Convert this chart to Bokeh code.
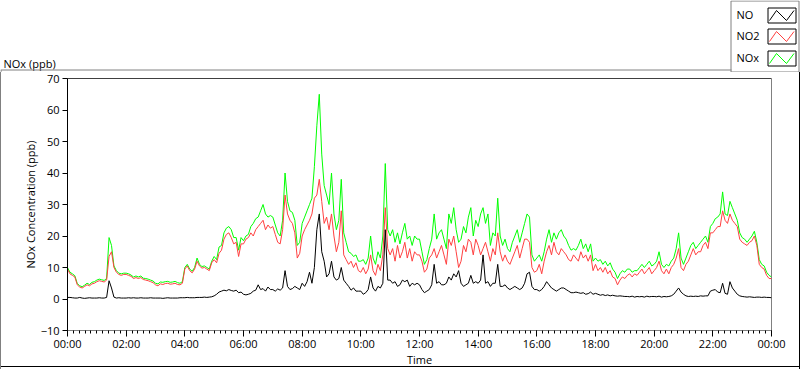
import numpy as np
from bokeh.plotting import figure
from bokeh.layouts import column
from bokeh.models import Range1d, FixedTicker, Span
from bokeh.embed import file_html
from bokeh.resources import INLINE
from bokeh.core.properties import value

FONT = "Open Sans"

# 5-minute samples, 00:00 .. 24:00 (one row per hour)
NO2 = [
    9.5, 8.0, 7.5, 7.0, 4.5, 3.8, 3.5, 4.0, 4.5, 4.2, 4.8, 5.0,
    5.5, 5.8, 5.6, 5.4, 6.0, 13.5, 15.0, 10.0, 8.5, 7.8, 7.5, 7.8,
    7.8, 7.5, 7.2, 6.5, 6.8, 6.5, 6.8, 6.2, 6.0, 5.8, 5.5, 5.2,
    4.5, 4.2, 4.8, 4.6, 4.9, 5.0, 4.7, 4.8, 5.0, 4.6, 4.5, 5.0,
    9.5, 10.5, 9.0, 8.3, 9.5, 12.0, 10.5, 9.8, 10.0, 9.5, 9.0, 11.5,
    12.5, 11.5, 14.5, 15.5, 19.0, 20.5, 21.0, 19.5, 17.5, 18.0, 13.5, 17.5,
    17.5, 19.0, 19.5, 21.0, 20.0, 22.0, 23.0, 24.0, 25.0, 22.0, 23.5, 22.5,
    23.0, 20.5, 18.0, 17.5, 22.0, 33.0, 27.0, 25.0, 24.0, 21.0, 13.0, 14.5,
    20.0, 22.0, 23.5, 25.0, 27.0, 32.0, 33.0, 38.0, 31.0, 24.0, 26.0, 22.0,
    27.0, 20.0, 15.0, 18.0, 28.0, 14.0, 12.5, 11.0, 12.0, 10.0, 11.5, 9.0,
    8.5, 10.0, 8.0, 9.5, 14.0, 9.0, 7.5, 11.0, 9.0, 14.0, 29.0, 16.0,
    14.0, 16.0, 12.0, 17.0, 13.0, 15.0, 18.0, 13.0, 16.0, 12.0, 15.0, 14.0,
    14.0, 12.0, 8.5, 9.5, 13.0, 14.0, 16.0, 13.0, 15.0, 17.0, 14.0, 11.0,
    19.0, 17.0, 20.0, 15.0, 10.0, 12.0, 17.0, 15.0, 19.0, 18.0, 14.0, 19.0,
    17.0, 14.0, 16.0, 18.0, 15.0, 12.0, 16.0, 14.0, 21.0, 15.0, 12.0, 14.0,
    12.0, 11.0, 13.0, 15.0, 17.0, 13.0, 16.0, 19.0, 19.0, 18.0, 10.0, 8.5,
    9.0, 11.0, 8.0, 12.0, 15.0, 17.0, 14.0, 18.0, 15.0, 14.0, 16.0, 15.0,
    14.0, 12.5, 12.0, 14.0, 13.0, 12.0, 15.0, 13.0, 14.0, 12.0, 14.0, 9.0,
    11.0, 9.0, 10.0, 8.5, 10.0, 8.0, 9.0, 7.0, 6.5, 4.5, 6.0, 7.0,
    6.5, 7.5, 8.0, 7.0, 8.0, 7.5, 8.5, 9.5, 8.0, 9.0, 10.0, 8.0,
    9.0, 10.0, 12.0, 9.0, 8.0, 9.5, 8.0, 10.0, 11.0, 13.0, 16.0, 10.0,
    9.0, 11.0, 12.0, 14.0, 16.0, 14.0, 15.0, 15.0, 17.0, 18.0, 16.0, 21.0,
    21.0, 22.0, 23.0, 23.0, 28.0, 25.0, 24.0, 27.0, 25.0, 24.0, 23.0, 19.0,
    18.0, 17.5, 17.0, 18.0, 18.5, 20.0, 17.0, 11.0, 10.0, 9.5, 7.5, 6.5,
    6.5,
]

NOX = [
    10.0, 8.5, 8.0, 7.4, 4.9, 4.2, 3.9, 4.4, 5.0, 4.6, 5.3, 5.5,
    6.0, 6.3, 6.1, 5.9, 6.5, 19.5, 17.0, 10.5, 9.0, 8.2, 8.0, 8.2,
    8.2, 8.0, 7.6, 7.0, 7.3, 7.0, 7.3, 6.6, 6.5, 6.3, 6.0, 5.7,
    5.0, 4.8, 5.4, 5.3, 5.5, 5.6, 5.3, 5.4, 5.6, 5.2, 5.0, 5.5,
    10.0, 11.0, 9.5, 8.8, 10.0, 13.0, 11.0, 10.3, 10.5, 10.0, 9.5, 12.0,
    13.5, 12.5, 16.5, 17.0, 21.0, 22.5, 23.0, 22.0, 19.5, 19.5, 15.5, 19.5,
    18.5, 20.0, 20.5, 23.0, 24.0, 25.5, 26.0, 28.0, 30.0, 27.0, 26.0, 26.5,
    26.0, 23.5, 21.0, 20.0, 25.0, 40.0, 31.0, 28.0, 27.5, 25.0, 17.0, 18.0,
    24.0, 26.0, 28.0, 30.0, 32.0, 42.0, 55.0, 65.0, 46.0, 36.0, 33.0, 30.0,
    40.0, 27.0, 22.0, 25.0, 38.0, 21.0, 18.0, 15.0, 14.5, 13.5, 14.0, 12.0,
    12.0, 12.5, 11.0, 13.0, 20.0, 13.0, 11.0, 15.0, 13.0, 20.0, 43.0, 22.0,
    20.0, 22.0, 18.0, 21.0, 17.5, 21.0, 24.0, 19.0, 20.0, 17.0, 20.0, 19.0,
    19.0, 15.0, 11.0, 12.5, 16.0, 19.0, 27.0, 19.0, 21.0, 22.0, 19.0, 16.0,
    27.0, 24.0, 29.0, 22.0, 18.0, 19.0, 23.0, 21.0, 26.0, 29.0, 20.0, 25.0,
    23.0, 27.0, 29.0, 24.0, 27.0, 17.0, 21.0, 20.0, 32.0, 20.0, 17.0, 19.0,
    16.0, 15.0, 18.0, 20.0, 22.0, 18.0, 21.0, 24.0, 27.0, 26.0, 14.0, 12.0,
    13.0, 14.0, 12.0, 15.0, 19.0, 22.0, 18.0, 21.0, 19.0, 21.0, 22.0, 20.0,
    19.0, 17.0, 15.5, 16.0, 15.5, 17.0, 19.0, 16.0, 17.5, 15.0, 17.5, 12.0,
    13.0, 12.0, 12.5, 11.0, 12.0, 10.5, 11.5, 9.5, 8.5, 6.5, 8.0, 9.0,
    8.5, 9.5, 9.5, 8.5, 9.0, 9.0, 10.0, 11.0, 10.0, 11.0, 12.0, 10.5,
    11.0, 12.0, 15.0, 11.0, 10.0, 11.0, 10.5, 12.0, 13.0, 16.0, 21.0, 13.0,
    11.0, 13.0, 15.0, 17.0, 18.0, 16.0, 17.0, 18.0, 19.0, 20.0, 18.0, 23.0,
    24.0, 25.5, 26.0, 27.0, 34.0, 27.0, 26.5, 31.0, 29.0, 27.0, 25.0, 21.0,
    19.5, 19.0, 18.0, 19.0, 20.0, 21.5, 18.0, 12.5, 11.0, 10.5, 8.5, 7.5,
    7.0,
]

NO = [
    0.5, 0.5, 0.4, 0.3, 0.3, 0.5, 0.3, 0.2, 0.3, 0.4, 0.3, 0.3,
    0.3, 0.4, 0.3, 0.3, 0.5, 5.8, 3.5, 0.6, 0.3, 0.4, 0.3, 0.3,
    0.3, 0.4, 0.3, 0.4, 0.3, 0.3, 0.4, 0.3, 0.3, 0.3, 0.4, 0.3,
    0.3, 0.3, 0.3, 0.2, 0.3, 0.4, 0.3, 0.3, 0.3, 0.3, 0.4, 0.4,
    0.4, 0.5, 0.4, 0.4, 0.4, 0.5, 0.5, 0.5, 0.6, 0.5, 0.6, 0.7,
    1.0, 1.5, 2.2, 2.5, 2.8, 2.6, 3.0, 2.7, 2.5, 2.8, 2.0, 2.2,
    1.5, 1.3, 1.5, 1.8, 2.5, 2.8, 4.5, 3.0, 3.3, 2.5, 3.8, 3.0,
    3.0, 2.5, 3.2, 2.8, 3.5, 9.0, 4.0, 3.0, 3.3, 4.0, 3.5, 3.0,
    5.0, 4.0, 5.5, 8.5, 5.0, 10.0, 22.0, 27.0, 15.0, 12.0, 7.0, 8.0,
    12.0, 7.0, 6.0, 6.5, 10.0, 6.0, 5.0, 4.0, 2.8, 3.5, 2.5, 2.5,
    2.5, 1.5, 2.0, 3.0, 7.0, 3.5, 2.5, 4.0, 3.5, 5.0, 22.0, 6.0,
    6.0, 5.0, 5.5, 4.0, 4.5, 6.0, 5.5, 6.0, 4.0, 5.0, 4.5, 5.0,
    4.5, 3.0, 2.0, 2.5, 3.0, 4.5, 11.0, 5.0, 5.5, 4.5, 4.5, 5.0,
    7.0, 6.0, 8.0, 7.0, 9.0, 5.0, 4.0, 4.5, 5.0, 7.5, 5.0, 5.5,
    5.0, 6.0, 14.0, 5.0, 5.5, 4.0, 5.0, 5.0, 11.0, 4.0, 4.0, 4.5,
    3.5, 3.0, 3.5, 4.0, 3.5, 3.0, 3.5, 5.0, 8.0, 8.5, 4.0, 3.0,
    3.0, 2.5, 3.0, 4.0, 5.5, 4.5, 3.5, 3.0, 2.5, 3.0, 3.5, 3.5,
    3.0, 2.5, 2.0, 2.0, 2.2, 2.0, 1.8, 2.0, 1.5, 1.7, 2.2, 1.5,
    1.8, 1.5, 1.2, 1.4, 1.1, 1.3, 1.0, 1.2, 1.0, 0.9, 1.0, 0.9,
    0.8, 0.8, 0.7, 0.9, 0.6, 0.8, 0.7, 0.8, 0.6, 0.9, 0.7, 0.8,
    0.8, 0.7, 0.9, 0.6, 0.8, 0.7, 0.8, 1.0, 1.5, 2.5, 3.5, 2.2,
    1.5, 1.0, 0.8, 0.9, 0.8, 0.9, 0.8, 1.0, 0.9, 1.0, 1.0, 2.5,
    2.8, 3.0, 2.2, 2.0, 5.0, 1.8, 1.5, 5.5, 3.5, 2.5, 1.5, 1.0,
    0.8, 0.7, 0.6, 0.7, 0.6, 0.5, 0.6, 0.6, 0.5, 0.6, 0.5, 0.5,
    0.4,
]

TIME_H = np.arange(len(NO)) / 12.0  # hours since midnight, 5-min steps

X_TICKS = [0, 2, 4, 6, 8, 10, 12, 14, 16, 18, 20, 22, 24]
X_LABELS = ["00:00", "02:00", "04:00", "06:00", "08:00", "10:00", "12:00",
            "14:00", "16:00", "18:00", "20:00", "22:00", "00:00"]
Y_TICKS = [-10, 0, 10, 20, 30, 40, 50, 60, 70]

SERIES = ["NO", "NO2", "NOx"]
COLORS = {"NO": "#000000", "NO2": "#ff4040", "NOx": "#00ff00"}

W = 800
TOP_H = 72
MAIN_H = 297

# ---------------- header strip (title + legend) ----------------
top = figure(width=W, height=TOP_H, x_range=Range1d(0, W), y_range=Range1d(TOP_H, 0),
             x_axis_type=None, y_axis_type=None, toolbar_location=None,
             output_backend="svg", min_border=0, min_border_left=0, min_border_right=0,
             min_border_top=0, min_border_bottom=0, outline_line_color=None, title=None)
top.frame_align = False
top.background_fill_color = "white"
top.border_fill_color = "white"

top.text(x=[3], y=[63], text=["NOx (ppb)"], text_font=value(FONT), text_font_size="11px",
         text_baseline="alphabetic", text_color="black")
# outer frame top edge + start of its left edge
top.line([0, 731], [69.5, 69.5], line_color="#808080", line_width=1)
top.line([0.5, 0.5], [69.5, 72], line_color="#808080", line_width=1)
# legend box
top.line([730.5, 730.5, 798.5, 798.5, 730.5], [72, 0.5, 0.5, 71.5, 71.5],
         line_color="#808080", line_width=1)
row_y = [15, 36, 58]
for name, yc in zip(SERIES, row_y):
    top.text(x=[736], y=[yc - 1], text=[name], text_font=value(FONT), text_font_size="11px",
             text_baseline="middle", text_color="black")
    top.quad(left=[767.5], right=[795.5], top=[yc - 7.5], bottom=[yc + 7.5],
             fill_color="white", line_color="#000000", line_width=1)
    top.line([769, 776, 786, 793.5], [yc + 5, yc - 5, yc + 5, yc - 5],
             line_color=COLORS[name], line_width=1)

# ---------------- main chart ----------------
p = figure(width=W, height=MAIN_H, x_range=Range1d(0, 24), y_range=Range1d(-10, 70),
           toolbar_location=None, output_backend="svg", title=None,
           min_border_left=67, min_border_right=29, min_border_top=6, min_border_bottom=39)
p.frame_align = False
p.background_fill_color = "white"
p.border_fill_color = None
p.grid.visible = False
p.outline_line_color = "#808080"
p.styles = {"box-shadow": "inset 1px 0 0 0 #808080, inset -1px 0 0 0 #000000, inset 0 -2px 0 0 #ffffff, inset 0 -3px 0 0 #000000",
            "background-color": "white"}

p.line(TIME_H, NOX, line_color=COLORS["NOx"], line_width=1)
p.line(TIME_H, NO2, line_color=COLORS["NO2"], line_width=1)
p.line(TIME_H, NO, line_color=COLORS["NO"], line_width=1)

p.add_layout(Span(location=70, dimension="width", line_color="black", line_width=1))

minor = [i * 0.2 for i in range(0, 121)]
xa = p.xaxis[0]
xa.ticker = FixedTicker(ticks=X_TICKS, minor_ticks=minor)
xa.major_label_overrides = {t: lab for t, lab in zip(X_TICKS, X_LABELS)}
xa.major_tick_out = 6
xa.major_tick_in = 0
xa.minor_tick_out = 3
xa.minor_tick_in = 0
xa.major_label_standoff = -1
xa.major_label_text_font = FONT
xa.major_label_text_font_size = "11px"
xa.major_label_text_color = "black"
xa.axis_line_color = "#808080"
xa.major_tick_line_color = "black"
xa.minor_tick_line_color = "black"
xa.axis_label = "Time"
xa.axis_label_text_font = FONT
xa.axis_label_text_font_size = "11px"
xa.axis_label_text_font_style = "normal"
xa.axis_label_text_color = "black"
xa.axis_label_standoff = -2

ya = p.yaxis[0]
ya.ticker = FixedTicker(ticks=Y_TICKS, minor_ticks=[])
ya.major_tick_out = 5
ya.major_tick_in = 0
ya.minor_tick_out = 0
ya.minor_tick_in = 0
ya.major_label_standoff = 3
ya.major_label_text_font = FONT
ya.major_label_text_font_size = "11px"
ya.major_label_text_color = "black"
ya.axis_label = "NOx Concentration (ppb)"
ya.axis_label_text_font = FONT
ya.axis_label_text_font_size = "11px"
ya.axis_label_text_font_style = "normal"
ya.axis_label_text_color = "black"
ya.axis_label_standoff = 0
ya.axis_line_color = "black"
ya.major_tick_line_color = "black"

layout = column(top, p)
open("out.html", "w").write(file_html(layout, INLINE))
